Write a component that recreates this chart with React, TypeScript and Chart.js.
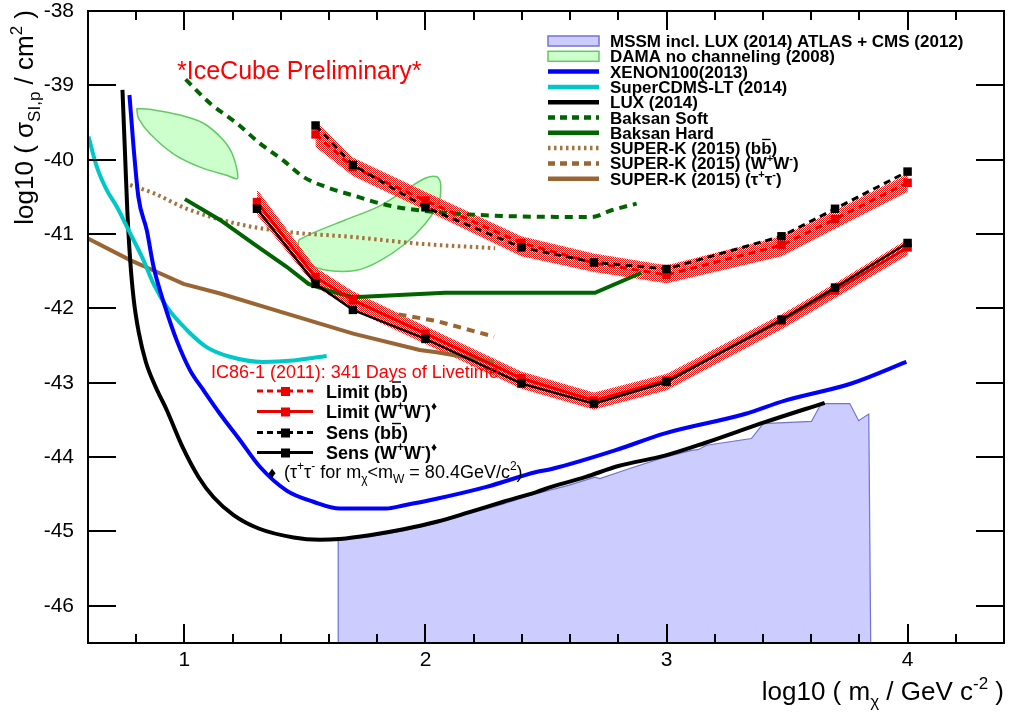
import React, { useEffect, useRef } from 'react';
import { Chart, registerables } from 'chart.js';
Chart.register(...registerables);

const FONT = "'Liberation Sans', Arial, Helvetica, sans-serif";

// ---------- axes ----------
const X_MIN = 0.6, X_MAX = 4.4, Y_MIN = -46.5, Y_MAX = -38;
const xTickValues = [1, 2, 3, 4];
const xMinorTickValues = [0.8, 1.2, 1.4, 1.6, 1.8, 2.2, 2.4, 2.6, 2.8, 3.2, 3.4, 3.6, 3.8, 4.2];
const yTickValues = [-46, -45, -44, -43, -42, -41, -40, -39, -38];

// ---------- exclusion curves ----------
const luxX = [0.743, 0.753, 0.763, 0.775, 0.790, 0.811, 0.840, 0.877, 0.927, 0.993, 1.059, 1.121, 1.204, 1.308, 1.453, 1.561, 1.644, 1.768, 1.909, 2.046, 2.182, 2.323, 2.460, 2.522, 2.662, 2.800, 2.993, 3.159, 3.408, 3.656];
const luxY = [-39.06, -39.87, -40.68, -41.35, -41.89, -42.33, -42.72, -43.03, -43.37, -43.87, -44.27, -44.54, -44.78, -44.96, -45.08, -45.11, -45.10, -45.05, -44.97, -44.87, -44.74, -44.60, -44.47, -44.40, -44.27, -44.12, -43.98, -43.81, -43.53, -43.27];

const xenonX = [0.772, 0.789, 0.809, 0.844, 0.872, 0.920, 0.968, 1.023, 1.079, 1.148, 1.230, 1.313, 1.424, 1.535, 1.645, 1.838, 1.908, 2.046, 2.253, 2.460, 2.523, 2.786, 2.993, 3.325, 3.491, 3.767, 3.995];
const xenonY = [-39.13, -39.83, -40.50, -40.95, -41.44, -41.98, -42.43, -42.83, -43.10, -43.42, -43.77, -44.13, -44.45, -44.60, -44.69, -44.69, -44.65, -44.56, -44.40, -44.20, -44.16, -43.91, -43.68, -43.42, -43.24, -43.01, -42.72];

const cdmsX = [0.602, 0.637, 0.678, 0.719, 0.775, 0.830, 0.872, 0.927, 1.010, 1.092, 1.189, 1.327, 1.452, 1.590];
const cdmsY = [-39.69, -40.10, -40.41, -40.63, -40.99, -41.35, -41.67, -41.98, -42.29, -42.52, -42.65, -42.72, -42.70, -42.64];

const baksanSoftX = [1.005, 1.106, 1.217, 1.313, 1.410, 1.493, 1.590, 1.700, 1.838, 2.032, 2.358, 2.689, 2.772, 2.876];
const baksanSoftY = [-38.92, -39.24, -39.51, -39.78, -40.01, -40.23, -40.37, -40.48, -40.61, -40.70, -40.76, -40.77, -40.68, -40.59];

const baksanHardX = [1.002, 1.148, 1.286, 1.424, 1.515, 1.598, 1.700, 2.082, 2.703, 2.896];
const baksanHardY = [-40.53, -40.81, -41.13, -41.44, -41.67, -41.76, -41.85, -41.79, -41.79, -41.52];

const superKbbX = [0.775, 0.872, 1.010, 1.217, 1.424, 1.700, 1.976, 2.289];
const superKbbY = [-40.34, -40.45, -40.66, -40.86, -40.97, -41.04, -41.13, -41.19];

const superKwwX = [1.888, 2.047, 2.285];
const superKwwY = [-42.08, -42.17, -42.38];

const superKtauX = [0.6, 0.775, 0.872, 0.996, 1.148, 1.424, 1.700, 1.976, 2.047, 2.285];
const superKtauY = [-41.06, -41.35, -41.49, -41.67, -41.80, -42.07, -42.34, -42.56, -42.59, -42.72];

// ---------- regions ----------
const damaAX = [0.802, 0.872, 0.982, 1.079, 1.162, 1.203, 1.220, 1.175, 1.065, 0.954, 0.857, 0.809];
const damaAY = [-39.31, -39.33, -39.40, -39.51, -39.74, -39.96, -40.25, -40.21, -40.10, -39.92, -39.65, -39.44];
const damaBX = [1.474, 1.529, 1.667, 1.805, 1.916, 1.999, 2.047, 2.063, 2.054, 1.999, 1.916, 1.805, 1.709, 1.598, 1.515, 1.474];
const damaBY = [-41.08, -40.99, -40.81, -40.63, -40.41, -40.25, -40.23, -40.32, -40.59, -40.86, -41.13, -41.37, -41.49, -41.49, -41.40, -41.22];

const mssmX = [1.638, 1.638, 1.768, 1.909, 2.046, 2.182, 2.323, 2.460, 2.593, 2.703, 2.724, 2.841, 2.993, 3.104, 3.131, 3.166, 3.352, 3.401, 3.601, 3.642, 3.760, 3.797, 3.839, 3.847];
const mssmY = [-46.5, -45.11, -45.07, -44.99, -44.89, -44.76, -44.63, -44.49, -44.38, -44.27, -44.29, -44.16, -44.00, -43.91, -43.90, -43.84, -43.75, -43.55, -43.52, -43.28, -43.28, -43.51, -43.42, -46.5];

// ---------- IceCube IC86-1 ----------
const icLogMassBB = [1.544, 1.699, 2.0, 2.398, 2.699, 3.0, 3.477, 3.699, 4.0];
const sensBB = [-39.54, -40.07, -40.64, -41.18, -41.38, -41.47, -41.03, -40.66, -40.16];
const limitBB = [-39.66, -40.10, -40.55, -41.12, -41.39, -41.55, -41.15, -40.80, -40.31];
const limitBBHi = [-39.48, -39.97, -40.43, -41.03, -41.26, -41.42, -41.03, -40.68, -40.19];
const limitBBLo = [-39.83, -40.22, -40.68, -41.30, -41.51, -41.66, -41.30, -40.93, -40.43];

const icLogMassWW = [1.301, 1.544, 1.699, 2.0, 2.398, 2.699, 3.0, 3.477, 3.699, 4.0];
const sensWW = [-40.66, -41.67, -42.02, -42.41, -43.01, -43.28, -42.99, -42.15, -41.72, -41.12];
const limitWW = [-40.57, -41.58, -41.89, -42.34, -42.94, -43.24, -42.97, -42.17, -41.76, -41.18];
const limitWWHi = [-40.40, -41.45, -41.77, -42.24, -42.85, -43.13, -42.88, -42.08, -41.66, -41.07];
const limitWWLo = [-40.74, -41.71, -42.02, -42.48, -43.08, -43.36, -43.10, -42.28, -41.86, -41.28];

// ---------- colours ----------
const MSSM_FILL = 'rgb(204,204,255)';
const MSSM_LINE = 'rgb(115,115,210)';
const DAMA_FILL = 'rgb(204,255,204)';
const DAMA_LINE = 'rgb(100,200,100)';
const BLUE = 'rgb(0,0,255)';
const CYAN = 'rgb(0,200,200)';
const GREEN = 'rgb(0,100,0)';
const BROWN = 'rgb(153,102,51)';
const BROWN_DOT = 'rgb(165,115,65)';
const RED = 'rgb(235,0,0)';

type Seg = { t: string; k?: 'sup' | 'sub' | 'bar' };

function drawRich(ctx: CanvasRenderingContext2D, segs: Seg[], x: number, y: number, fs: number, weight: string, color: string, align: 'left' | 'right' = 'left') {
  const base = `${weight} ${fs}px ${FONT}`;
  const small = `${weight} ${Math.round(fs * 0.65)}px ${FONT}`;
  const ws = segs.map(s => {
    ctx.font = s.k === 'sup' || s.k === 'sub' ? small : base;
    return ctx.measureText(s.t).width;
  });
  const total = ws.reduce((a, b) => a + b, 0);
  let cx = align === 'right' ? x - total : x;
  ctx.fillStyle = color;
  ctx.strokeStyle = color;
  ctx.textAlign = 'left';
  ctx.textBaseline = 'alphabetic';
  segs.forEach((s, i) => {
    let dy = 0;
    if (s.k === 'sup') { ctx.font = small; dy = -fs * 0.42; }
    else if (s.k === 'sub') { ctx.font = small; dy = fs * 0.25; }
    else ctx.font = base;
    ctx.fillText(s.t, cx, y + dy);
    if (s.k === 'bar') {
      ctx.lineWidth = Math.max(1.2, fs * 0.08);
      ctx.beginPath();
      ctx.moveTo(cx + 1, y - fs * 0.86);
      ctx.lineTo(cx + ws[i] - 1, y - fs * 0.86);
      ctx.stroke();
    }
    cx += ws[i];
  });
}

type Sym = { type: 'box'; fill: string; stroke: string } | { type: 'line'; color: string; dash: number[]; width: number };

const legend1Labels: Seg[][] = [
  [{ t: 'MSSM incl. LUX (2014) ATLAS + CMS (2012)' }],
  [{ t: 'DAMA no channeling (2008)' }],
  [{ t: 'XENON100(2013)' }],
  [{ t: 'SuperCDMS-LT (2014)' }],
  [{ t: 'LUX (2014)' }],
  [{ t: 'Baksan Soft' }],
  [{ t: 'Baksan Hard' }],
  [{ t: 'SUPER-K (2015) (b' }, { t: 'b', k: 'bar' }, { t: ')' }],
  [{ t: 'SUPER-K (2015) (W' }, { t: '+', k: 'sup' }, { t: 'W' }, { t: '-', k: 'sup' }, { t: ')' }],
  [{ t: 'SUPER-K (2015) (τ' }, { t: '+', k: 'sup' }, { t: 'τ' }, { t: '-', k: 'sup' }, { t: ')' }],
];
const legend1Syms: Sym[] = [
  { type: 'box', fill: MSSM_FILL, stroke: MSSM_LINE },
  { type: 'box', fill: DAMA_FILL, stroke: DAMA_LINE },
  { type: 'line', color: BLUE, dash: [], width: 4.5 },
  { type: 'line', color: CYAN, dash: [], width: 4.5 },
  { type: 'line', color: '#000', dash: [], width: 4.5 },
  { type: 'line', color: GREEN, dash: [7, 5], width: 4.5 },
  { type: 'line', color: GREEN, dash: [], width: 4.5 },
  { type: 'line', color: BROWN_DOT, dash: [2.5, 3.5], width: 4.5 },
  { type: 'line', color: BROWN, dash: [7, 5], width: 4.5 },
  { type: 'line', color: BROWN, dash: [], width: 4.5 },
];

const icTitle = 'IC86-1 (2011): 341 Days of Livetime';
const icLabels: Seg[][] = [
  [{ t: 'Limit (b' }, { t: 'b', k: 'bar' }, { t: ')' }],
  [{ t: 'Limit (W' }, { t: '+', k: 'sup' }, { t: 'W' }, { t: '-', k: 'sup' }, { t: ')' }, { t: '♦', k: 'sup' }],
  [{ t: 'Sens (b' }, { t: 'b', k: 'bar' }, { t: ')' }],
  [{ t: 'Sens (W' }, { t: '+', k: 'sup' }, { t: 'W' }, { t: '-', k: 'sup' }, { t: ')' }, { t: '♦', k: 'sup' }],
];
const icSyms = [
  { color: RED, dash: [6, 4] },
  { color: RED, dash: [] as number[] },
  { color: '#000', dash: [6, 4] },
  { color: '#000', dash: [] as number[] },
];
const footnote: Seg[] = [
  { t: '(τ' }, { t: '+', k: 'sup' }, { t: 'τ' }, { t: '-', k: 'sup' }, { t: ' for m' }, { t: 'χ', k: 'sub' },
  { t: '<m' }, { t: 'W', k: 'sub' }, { t: ' = 80.4GeV/c' }, { t: '2', k: 'sup' }, { t: ')' },
];

const pts = (xs: number[], ys: number[]) => xs.map((x, i) => ({ x, y: ys[i] }));
const closed = (xs: number[], ys: number[]) => { const p = pts(xs, ys); return [...p, p[0]]; };
const bandPoly = (xs: number[], hi: number[], lo: number[]) => {
  const up = pts(xs, hi);
  const dn = pts(xs, lo).reverse();
  return [...up, ...dn, up[0]];
};

const frameTicksPlugin = {
  id: 'frameTicks',
  afterDatasetsDraw(chart: any) {
    const { ctx, chartArea: a, scales } = chart;
    const xs = scales.x, ys = scales.y;
    ctx.save();
    ctx.strokeStyle = '#000';
    ctx.lineWidth = 2;
    ctx.setLineDash([]);
    ctx.strokeRect(a.left, a.top, a.right - a.left, a.bottom - a.top);
    ctx.beginPath();
    for (const v of xTickValues) {
      const p = Math.round(xs.getPixelForValue(v));
      ctx.moveTo(p, a.bottom); ctx.lineTo(p, a.bottom - 19);
      ctx.moveTo(p, a.top); ctx.lineTo(p, a.top + 19);
    }
    for (const v of xMinorTickValues) {
      const p = Math.round(xs.getPixelForValue(v));
      ctx.moveTo(p, a.bottom); ctx.lineTo(p, a.bottom - 9);
      ctx.moveTo(p, a.top); ctx.lineTo(p, a.top + 9);
    }
    for (const v of yTickValues) {
      const p = Math.round(ys.getPixelForValue(v));
      ctx.moveTo(a.left, p); ctx.lineTo(a.left + 28, p);
      ctx.moveTo(a.right, p); ctx.lineTo(a.right - 28, p);
    }
    ctx.stroke();
    ctx.restore();
  },
  afterDraw(chart: any) {
    const { ctx, chartArea: a } = chart;
    ctx.save();
    // axis titles
    drawRich(ctx, [{ t: 'log10 ( m' }, { t: 'χ', k: 'sub' }, { t: ' / GeV c' }, { t: '-2', k: 'sup' }, { t: ' )' }],
      a.right, 700, 26, 'normal', '#000', 'right');
    ctx.save();
    ctx.translate(33, 10);
    ctx.rotate(-Math.PI / 2);
    drawRich(ctx, [{ t: 'log10 ( σ' }, { t: 'SI,p', k: 'sub' }, { t: ' / cm' }, { t: '2', k: 'sup' }, { t: ' )' }],
      0, 0, 26, 'normal', '#000', 'right');
    ctx.restore();

    // preliminary
    drawRich(ctx, [{ t: '*IceCube Preliminary*' }], 177, 79, 25, 'normal', 'rgb(255,0,0)');

    // legend 1
    legend1Labels.forEach((segs, i) => {
      const cy = 41 + i * 15.3;
      const sym = legend1Syms[i];
      if (sym.type === 'box') {
        ctx.fillStyle = sym.fill;
        ctx.fillRect(548, cy - 5, 51, 10);
        ctx.strokeStyle = sym.stroke;
        ctx.lineWidth = 1.5;
        ctx.setLineDash([]);
        ctx.strokeRect(548, cy - 5, 51, 10);
      } else {
        ctx.strokeStyle = sym.color;
        ctx.lineWidth = sym.width;
        ctx.setLineDash(sym.dash);
        ctx.beginPath();
        ctx.moveTo(548, cy); ctx.lineTo(599, cy);
        ctx.stroke();
        ctx.setLineDash([]);
      }
      drawRich(ctx, segs, 610, cy + 6, 17, 'bold', '#000');
    });

    // legend 2 (IceCube)
    drawRich(ctx, [{ t: icTitle }], 211, 378, 18, 'normal', 'rgb(255,0,0)');
    const icY = [391, 411.5, 432.5, 452.5];
    icLabels.forEach((segs, i) => {
      const cy = icY[i];
      const s = icSyms[i];
      ctx.strokeStyle = s.color;
      ctx.lineWidth = 3;
      ctx.setLineDash(s.dash);
      ctx.beginPath();
      ctx.moveTo(257, cy); ctx.lineTo(313, cy);
      ctx.stroke();
      ctx.setLineDash([]);
      ctx.fillStyle = s.color;
      ctx.fillRect(281, cy - 4, 9, 9);
      drawRich(ctx, segs, 326, cy + 6.5, 18, 'bold', '#000');
    });
    drawRich(ctx, [{ t: '♦' }], 268, 478, 16, 'normal', '#000');
    drawRich(ctx, footnote, 284, 478, 18, 'normal', '#000');
    ctx.restore();
  },
};

export default function App() {
  const ref = useRef<HTMLCanvasElement>(null);
  useEffect(() => {
    const canvas = ref.current!;
    const c2 = canvas.getContext('2d')!;
    const pc = document.createElement('canvas');
    pc.width = 2; pc.height = 2;
    const p = pc.getContext('2d')!;
    p.fillStyle = 'rgb(255,20,20)';
    p.fillRect(0, 0, 1, 1);
    p.fillRect(1, 1, 1, 1);
    const pattern = c2.createPattern(pc, 'repeat') as CanvasPattern;

    const line = (data: any[], color: string, width: number, dash: number[], order: number, extra: any = {}) => ({
      data, showLine: true, borderColor: color, backgroundColor: color, borderWidth: width, borderDash: dash,
      pointRadius: 0, tension: 0, fill: false, order, ...extra,
    });
    const smooth = { cubicInterpolationMode: 'monotone' };
    const marked = (data: any[], color: string, width: number, dash: number[], order: number) =>
      line(data, color, width, dash, order, { pointRadius: 6, pointStyle: 'rect', pointBackgroundColor: color, pointBorderColor: color, pointBorderWidth: 0 });

    const datasets: any[] = [
      { data: closed(mssmX, mssmY), showLine: true, fill: 'shape', backgroundColor: MSSM_FILL, borderColor: MSSM_LINE, borderWidth: 1.2, pointRadius: 0, tension: 0, order: 100 },
      { data: closed(damaAX, damaAY), showLine: true, fill: 'shape', backgroundColor: DAMA_FILL, borderColor: DAMA_LINE, borderWidth: 1.5, pointRadius: 0, tension: 0.3, order: 90 },
      { data: closed(damaBX, damaBY), showLine: true, fill: 'shape', backgroundColor: DAMA_FILL, borderColor: DAMA_LINE, borderWidth: 1.5, pointRadius: 0, tension: 0.3, order: 90 },
      { data: bandPoly(icLogMassBB, limitBBHi, limitBBLo), showLine: true, fill: 'shape', backgroundColor: pattern, borderColor: 'rgba(0,0,0,0)', borderWidth: 0, pointRadius: 0, tension: 0, order: 80 },
      { data: bandPoly(icLogMassWW, limitWWHi, limitWWLo), showLine: true, fill: 'shape', backgroundColor: pattern, borderColor: 'rgba(0,0,0,0)', borderWidth: 0, pointRadius: 0, tension: 0, order: 80 },
      line(pts(xenonX, xenonY), BLUE, 4, [], 50, smooth),
      line(pts(cdmsX, cdmsY), CYAN, 4, [], 50, smooth),
      line(pts(luxX, luxY), '#000', 4, [], 50, smooth),
      line(pts(baksanSoftX, baksanSoftY), GREEN, 4, [8, 6], 50, smooth),
      line(pts(baksanHardX, baksanHardY), GREEN, 4, [], 50),
      line(pts(superKbbX, superKbbY), BROWN_DOT, 4, [2.5, 3.5], 50, smooth),
      line(pts(superKwwX, superKwwY), BROWN, 4, [8, 6], 50),
      line(pts(superKtauX, superKtauY), BROWN, 4, [], 50),
      marked(pts(icLogMassBB, limitBB), RED, 3, [7, 5], 20),
      marked(pts(icLogMassWW, limitWW), RED, 3, [], 20),
      marked(pts(icLogMassBB, sensBB), '#000', 3, [7, 5], 10),
      marked(pts(icLogMassWW, sensWW), '#000', 2.5, [], 10),
    ];

    const chart = new Chart(canvas, {
      type: 'scatter',
      data: { datasets },
      plugins: [frameTicksPlugin],
      options: {
        animation: false,
        responsive: false,
        devicePixelRatio: 1,
        layout: { padding: { top: 11, right: 7, left: 0, bottom: 0 } },
        plugins: { legend: { display: false }, tooltip: { enabled: false } },
        scales: {
          x: {
            type: 'linear', min: X_MIN, max: X_MAX,
            grid: { display: false }, border: { display: false },
            ticks: { font: { family: FONT, size: 21 }, color: '#000', padding: -3, maxRotation: 0, autoSkip: false, callback: (v: any) => String(v) },
            afterBuildTicks: (s: any) => { s.ticks = xTickValues.map(v => ({ value: v })); },
            afterFit: (s: any) => { s.height = 77; s.paddingLeft = 0; s.paddingRight = 0; },
          },
          y: {
            type: 'linear', min: Y_MIN, max: Y_MAX,
            grid: { display: false }, border: { display: false },
            ticks: { font: { family: FONT, size: 21 }, color: '#000', padding: 6, autoSkip: false, callback: (v: any) => String(v) },
            afterBuildTicks: (s: any) => { s.ticks = yTickValues.map(v => ({ value: v })); },
            afterFit: (s: any) => { s.width = 88; s.paddingTop = 0; s.paddingBottom = 0; },
          },
        },
      } as any,
    });
    return () => chart.destroy();
  }, []);
  return (
    <div style={{ position: 'fixed', left: 0, top: 0, width: 1011, height: 720, background: '#fff' }}>
      <canvas ref={ref} width={1011} height={720} style={{ display: 'block' }} />
    </div>
  );
}
